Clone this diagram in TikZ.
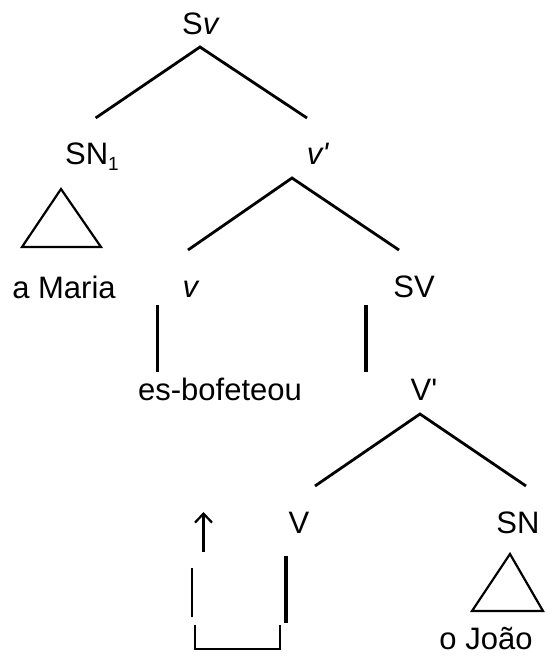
\documentclass[tikz,border=0pt]{standalone}
\usepackage{fontspec}
\setmainfont{Liberation Sans}
\usetikzlibrary{arrows.meta}
\begin{document}
\begin{tikzpicture}[x=1pt,y=-1pt,
  lab/.style={inner sep=0pt, anchor=base, font=\fontsize{31}{36}\selectfont},
  branch/.style={line width=2.8pt},
  stem/.style={line width=3.2pt},
  thin/.style={line width=2.2pt},
  tri/.style={line width=2.2pt, line join=miter}]
\useasboundingbox (0,0) rectangle (545,657);

% category labels and words
\node[lab] (Sv)    at (201,34)  {S\textit{v}};
\node[lab] (SN1)   at (92,164)  {SN\raisebox{-6pt}{\fontsize{19}{19}\selectfont 1}};
\node[lab] (vbar)  at (318,164) {\textit{v\textquotesingle}};
\node[lab] (Maria) at (64,298)  {a Maria};
\node[lab] (v)     at (191,297) {\textit{v}};
\node[lab] (SV)    at (414,297) {SV};
\node[lab] (verb)  at (220,400) {es-bofeteou};
\node[lab] (Vbar)  at (424,400) {V\textquotesingle};
\node[lab] (V)     at (299,533) {V};
\node[lab] (SN)    at (518,533) {SN};
\node[lab] (Joao)  at (486,649) {o João};

% branch points
\coordinate (Sv-a)   at (200,47);
\coordinate (SN1-t)  at (95.6,118);
\coordinate (vbar-t) at (307,118);
\coordinate (vbar-a) at (292,178);
\coordinate (v-t)    at (188,250);
\coordinate (SV-t)   at (399,250);
\coordinate (v-b)    at (157.5,305);
\coordinate (verb-t) at (157.5,372);
\coordinate (SV-b)   at (366,305);
\coordinate (Vbar-t) at (366,372);
\coordinate (Vbar-a) at (420,414);
\coordinate (V-t)    at (315,486);
\coordinate (SN-t)   at (526,486);

% tree branches
\draw[branch] (SN1-t) -- (Sv-a) -- (vbar-t);
\draw[branch] (v-t) -- (vbar-a) -- (SV-t);
\draw[stem] (v-b) -- (verb-t);
\draw[stem] (SV-b) -- (Vbar-t);
\draw[branch] (V-t) -- (Vbar-a) -- (SN-t);

% triangles over the noun phrases
\draw[tri] (61,189) -- (22,247) -- (101,247) -- cycle;
\draw[tri] (510,554) -- (472,611) -- (543,611) -- cycle;

% movement of V to v
\coordinate (mv-tail) at (203.5,552);
\coordinate (mv-tip)  at (203.5,512);
\draw[thin, -{Straight Barb[length=9pt,width=17pt,line width=2.2pt]}] (mv-tail) -- (mv-tip);
\coordinate (tr-top) at (192,568);
\coordinate (tr-bot) at (192,617);
\draw[thin] (tr-top) -- (tr-bot);
\coordinate (V-top) at (286,556);
\coordinate (V-bot) at (286,623);
\draw[line width=3.4pt] (V-top) -- (V-bot);
\coordinate (br-l) at (195,625);
\coordinate (br-r) at (280,625);
\draw[thin] (br-l) -- (195,649) -- (280,649) -- (br-r);
\end{tikzpicture}
\end{document}
